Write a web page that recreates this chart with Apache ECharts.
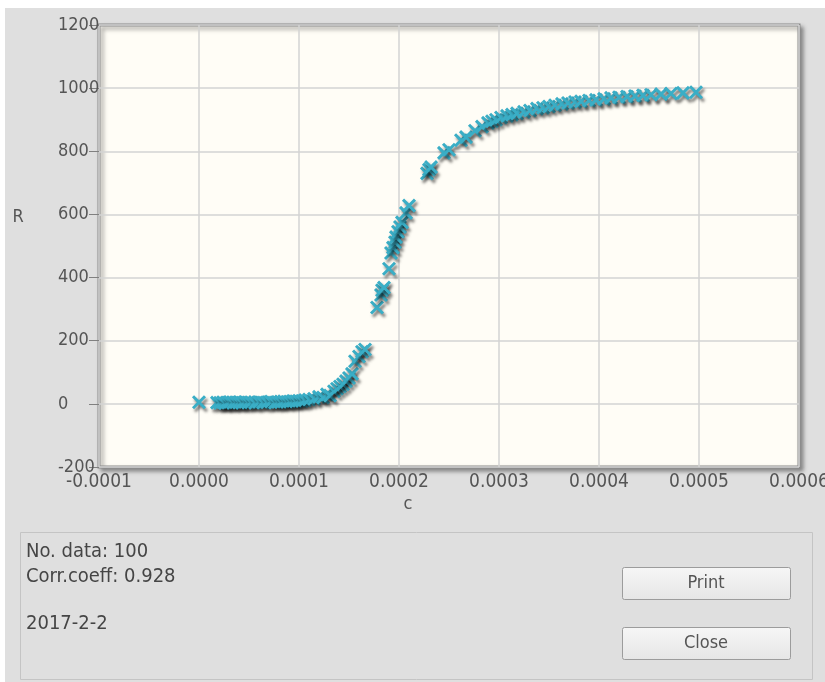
<!DOCTYPE html>
<html>
<head>
<meta charset="utf-8">
<title>R vs c</title>
<script src="https://cdn.jsdelivr.net/npm/echarts@6/dist/echarts.min.js"></script>
<style>
  html, body { margin: 0; padding: 0; background: #ffffff; }
  #win { position: absolute; left: 5px; top: 8px; width: 820px; height: 674px; background: #dfdfdf; }
  #chart { position: absolute; left: 0; top: 0; width: 825px; height: 682px; }
</style>
</head>
<body>
<div id="win"></div>
<div id="chart"></div>
<script>
// Concentration values (c) of the measured samples
const cValues = [
  0.000000, 0.000018, 0.000021, 0.000024, 0.000026, 0.000029, 0.000031, 0.000034, 0.000037, 0.000040,
  0.000043, 0.000046, 0.000049, 0.000052, 0.000056, 0.000060, 0.000064, 0.000068, 0.000072, 0.000076,
  0.000079, 0.000082, 0.000085, 0.000088, 0.000091, 0.000094, 0.000097, 0.000100, 0.000103, 0.000106,
  0.000110, 0.000115, 0.000120, 0.000124, 0.000128, 0.000131, 0.000135, 0.000138, 0.000141, 0.000144,
  0.000147, 0.000150, 0.000153, 0.000156, 0.000160, 0.000163, 0.000166, 0.000178, 0.000182, 0.000183,
  0.000185, 0.000190, 0.000192, 0.000194, 0.000196, 0.000197, 0.000199, 0.000201, 0.000203, 0.000207,
  0.000210, 0.000228, 0.000230, 0.000232, 0.000245, 0.000250, 0.000262, 0.000267, 0.000276, 0.000283,
  0.000289, 0.000293, 0.000297, 0.000302, 0.000308, 0.000313, 0.000318, 0.000325, 0.000331, 0.000338,
  0.000344, 0.000350, 0.000356, 0.000363, 0.000369, 0.000376, 0.000382, 0.000390, 0.000397, 0.000405,
  0.000412, 0.000420, 0.000428, 0.000436, 0.000444, 0.000452, 0.000462, 0.000472, 0.000484, 0.000497
];
// Response values (R) for each sample
const rValues = [
  5, 4, 3, 5, 2, 4, 6, 3, 5, 4,
  3, 6, 4, 5, 3, 6, 4, 5, 7, 4,
  6, 5, 8, 6, 7, 9, 8, 10, 9, 12,
  14, 16, 22, 20, 30, 26, 40, 48, 55, 62,
  72, 82, 95, 135, 150, 165, 172, 305, 345, 360,
  368, 428, 478, 495, 512, 528, 545, 560, 575, 605,
  628, 730, 742, 750, 795, 805, 835, 845, 865, 878,
  890, 895, 900, 907, 912, 916, 920, 925, 929, 935,
  938, 942, 946, 950, 953, 956, 958, 961, 963, 966,
  969, 971, 973, 975, 977, 979, 981, 983, 985, 987
];
// Axis ticks
const xTicks = [-0.0001, 0.0000, 0.0001, 0.0002, 0.0003, 0.0004, 0.0005, 0.0006];
const yTicks = [-200, 0, 200, 400, 600, 800, 1000, 1200];
// Summary lines
const infoLines = ['No. data: 100', 'Corr.coeff: 0.928', '', '2017-2-2'];
const buttonLabels = ['Print', 'Close'];

const FONT = '"DejaVu Sans Condensed", "DejaVu Sans", sans-serif';
const points = cValues.map((c, i) => [c, rValues[i]]);

const chart = echarts.init(document.getElementById('chart'), null, { renderer: 'canvas' });

const graphics = [
  // summary panel
  { type: 'rect', z: 5, shape: { x: 20.5, y: 532.5, width: 792, height: 147 },
    style: { fill: '#dfdfdf', stroke: '#c4c4c4', lineWidth: 1 } },
  { type: 'text', z: 6, x: 26, y: 552, style: { text: infoLines[0], font: '20px ' + FONT, fill: '#454545', verticalAlign: 'middle' } },
  { type: 'text', z: 6, x: 26, y: 577, style: { text: infoLines[1], font: '20px ' + FONT, fill: '#454545', verticalAlign: 'middle' } },
  { type: 'text', z: 6, x: 26, y: 624, style: { text: infoLines[3], font: '20px ' + FONT, fill: '#454545', verticalAlign: 'middle' } },
  // axis titles
  { type: 'text', z: 6, x: 18, y: 217, style: { text: 'R', font: '18px ' + FONT, fill: '#555', align: 'center', verticalAlign: 'middle' } },
  { type: 'text', z: 6, x: 408, y: 504, style: { text: 'c', font: '18px ' + FONT, fill: '#555', align: 'center', verticalAlign: 'middle' } }
];
buttonLabels.forEach((label, i) => {
  const top = 567 + i * 60;
  graphics.push({
    type: 'rect', z: 6,
    shape: { x: 622.5, y: top + 0.5, width: 168, height: 32, r: 2 },
    style: {
      fill: new echarts.graphic.LinearGradient(0, 0, 0, 1, [
        { offset: 0, color: '#f6f6f6' }, { offset: 1, color: '#e6e6e6' }
      ]),
      stroke: '#9c9c9c', lineWidth: 1
    }
  });
  graphics.push({
    type: 'text', z: 7, x: 706, y: top + 16.5,
    style: { text: label, font: '18px ' + FONT, fill: '#555', align: 'center', verticalAlign: 'middle' }
  });
});

chart.setOption({
  animation: false,
  backgroundColor: 'transparent',
  grid: {
    left: 99, top: 25, width: 700, height: 442,
    outerBoundsMode: 'none',
    containLabel: false,
    show: true,
    backgroundColor: '#fffdf6',
    borderColor: '#8c8c8c',
    borderWidth: 3,
    shadowColor: 'rgba(0,0,0,0.35)',
    shadowBlur: 4,
    shadowOffsetX: 3,
    shadowOffsetY: 3
  },
  xAxis: {
    type: 'value',
    min: xTicks[0], max: xTicks[xTicks.length - 1], interval: 0.0001,
    axisLine: { show: false, onZero: false },
    axisTick: { show: false },
    splitLine: { show: true, lineStyle: { color: '#d3d3d3', width: 1.5 } },
    axisLabel: {
      margin: 6, fontSize: 19, fontFamily: FONT, color: '#555',
      showMinLabel: true, showMaxLabel: true,
      formatter: v => v.toFixed(4)
    }
  },
  yAxis: {
    type: 'value',
    min: yTicks[0], max: yTicks[yTicks.length - 1], interval: 200,
    axisLine: { show: false, onZero: false },
    axisTick: { show: true, length: 10, lineStyle: { color: '#808080', width: 1 } },
    splitLine: { show: true, lineStyle: { color: '#d3d3d3', width: 1.5 } },
    axisLabel: {
      margin: 41, align: 'left', fontSize: 18, fontFamily: FONT, color: '#555',
      showMinLabel: true, showMaxLabel: true,
      formatter: v => String(v)
    }
  },
  graphic: graphics,
  series: [{
    type: 'scatter',
    data: points,
    symbol: 'path://M0,0 L10,10 M10,0 L0,10',
    symbolSize: 12,
    itemStyle: {
      color: 'rgba(0,0,0,0)',
      borderColor: '#3aaec6',
      borderWidth: 3,
      opacity: 1,
      shadowColor: 'rgba(0,0,0,0.55)',
      shadowBlur: 3,
      shadowOffsetX: 2,
      shadowOffsetY: 3
    },
    emphasis: { disabled: true }
  }]
});
</script>
</body>
</html>
